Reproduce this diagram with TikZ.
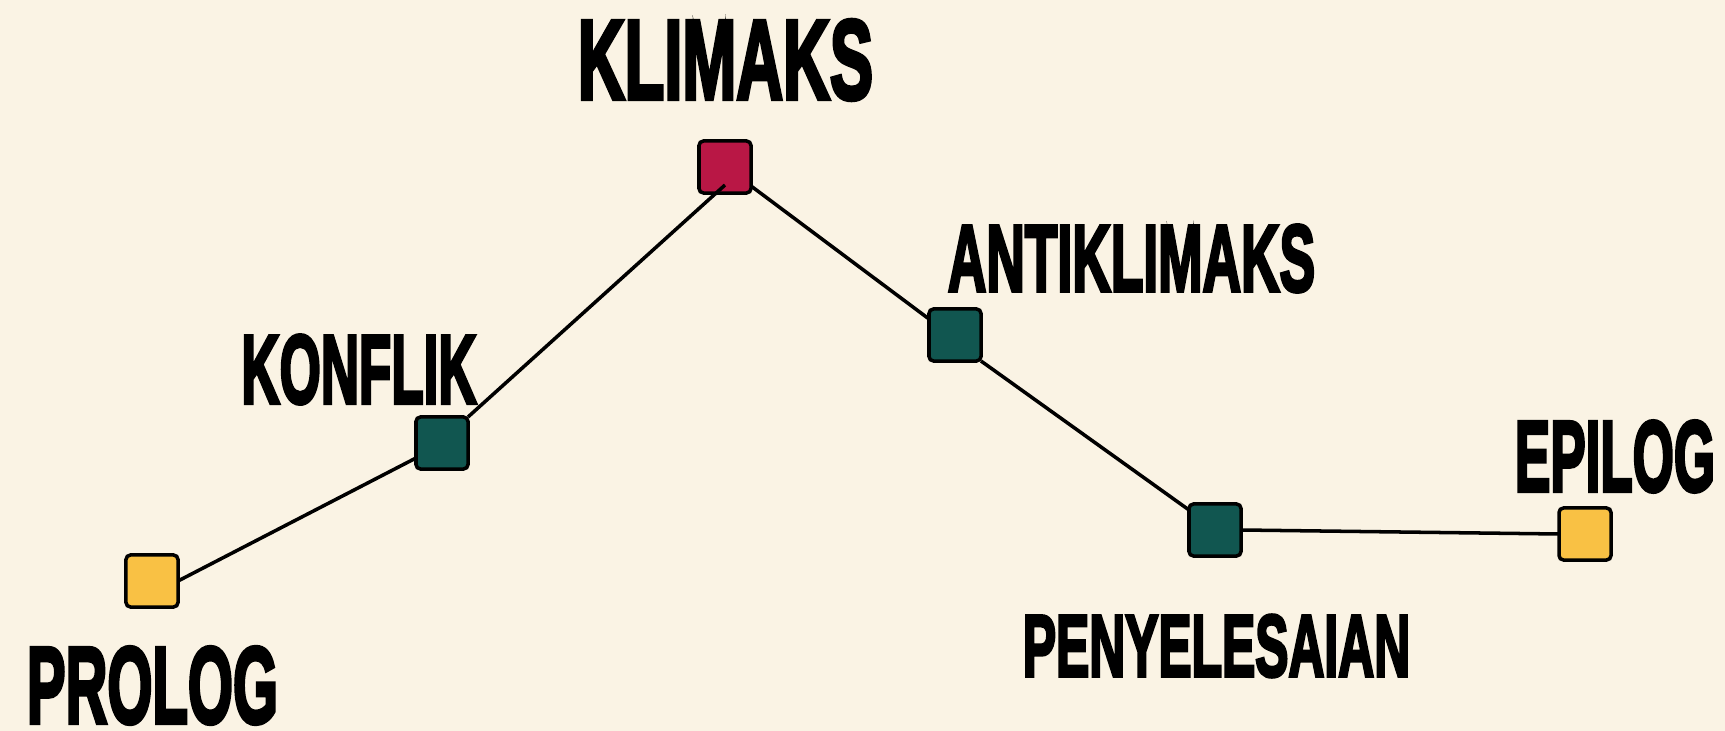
\documentclass[tikz,border=0pt]{standalone}
\usepackage{fontspec}
\usepackage{graphicx}
\setmainfont{Liberation Sans}[BoldFeatures={FakeBold=4}]
\definecolor{bgc}{RGB}{250,243,228}
\definecolor{yel}{RGB}{249,193,68}
\definecolor{crim}{RGB}{185,23,69}
\definecolor{teal}{RGB}{17,86,80}
\newcommand{\lbl}[3]{\resizebox*{#1cm}{#2cm}{\bfseries #3}}
\begin{document}
\begin{tikzpicture}[x=0.01cm,y=-0.01cm,
  stagebox/.style={draw=black,line width=1pt,rounded corners=0.045cm,minimum size=0.52cm,inner sep=0pt,outer sep=0pt},
  lab/.style={inner sep=0pt,outer sep=0pt,anchor=center},
  conn/.style={draw=black,line width=1pt}]
\fill[bgc] (0,0) rectangle (1725,731);
\useasboundingbox (0,0) rectangle (1725,731);
% boxes
\node[stagebox,fill=yel]  (prolog) at (152,581) {};
\node[stagebox,fill=teal] (konflik) at (442,443) {};
\node[stagebox,fill=crim] (klimaks) at (725,167) {};
\node[stagebox,fill=teal] (anti) at (955,335) {};
\node[stagebox,fill=teal] (peny) at (1215,530) {};
\node[stagebox,fill=yel]  (epilog) at (1585,534) {};
% connectors
\draw[conn] (prolog.east) -- ([yshift=-0.15cm]konflik.west);
\draw[conn] (konflik.north east) -- ([yshift=0.08cm]klimaks.south);
\draw[conn] ([yshift=0.07cm]klimaks.south east) -- ([yshift=-0.1cm]anti.north west);
\draw[conn] (anti.south east) -- ([yshift=-0.06cm]peny.north west);
\draw[conn] (peny.east) -- (epilog.west);
% labels
\node[lab] (tklimaks) at (725.5,60) {\lbl{2.95}{0.80}{KLIMAKS}};
\node[lab] (tanti) at (1131.5,258.5) {\lbl{3.67}{0.67}{ANTIKLIMAKS}};
\node[lab] (tkonflik) at (359,369.5) {\lbl{2.35}{0.69}{KONFLIK}};
\node[lab] (tprolog) at (152.5,685.5) {\lbl{2.51}{0.77}{PROLOG}};
\node[lab] (tepilog) at (1615,456.5) {\lbl{2.00}{0.71}{EPILOG}};
\node[lab] (tpeny) at (1216.5,646) {\lbl{3.87}{0.62}{PENYELESAIAN}};
\end{tikzpicture}
\end{document}
